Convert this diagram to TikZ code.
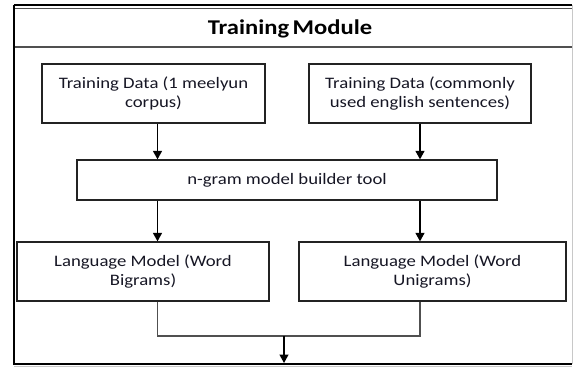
\documentclass[tikz,border=0pt]{standalone}
\usepackage{fontspec}
\setmainfont[FakeStretch=1.17]{Carlito}
\usetikzlibrary{arrows.meta}
\definecolor{ink}{RGB}{22,22,36}
\definecolor{rule}{RGB}{35,35,35}
\definecolor{soft}{RGB}{80,80,80}
\definecolor{pale}{RGB}{200,200,200}
\tikzset{
  x=1pt, y=-1pt,
  box/.style={draw=rule, line width=1.3pt, rectangle, inner sep=0pt,
    align=center, text=ink, font=\fontsize{16}{19.5}\selectfont},
  flow/.style={draw=black, line width=1.3pt,
    -{Triangle[width=9pt,length=8.5pt]}},
  link/.style={draw=soft, line width=1.4pt},
}
\begin{document}
\begin{tikzpicture}
\useasboundingbox (0,0) rectangle (573,369);

% module frame
\draw[black, line width=1.3pt] (14,5) -- (572,5);
\draw[soft, line width=1.1pt] (14,8.5) -- (572,8.5);
\draw[soft, line width=1.6pt] (14,47) -- (572,47);
\draw[pale, line width=1pt] (572,5) -- (572,364);
\draw[black, line width=2pt] (14,5) -- (14,364);
\draw[black, line width=2pt] (13,364) -- (572,364);
\draw[pale, line width=0.8pt] (14,366.5) -- (572,366.5);

\node[anchor=base, font=\fontsize{21}{25}\selectfont\bfseries, text=black]
  (title) at (290,35) {Training\hspace{-2pt} Module};

% boxes
\node[box, minimum width=223pt, minimum height=59pt] (data1) at (153.5,93.5)
  {Training Data (1 meelyun\\corpus)};
\node[box, minimum width=222pt, minimum height=59pt] (data2) at (420,93.5)
  {Training Data (commonly\\used english sentences)};
\node[box, minimum width=420pt, minimum height=40pt] (ngram) at (287,180)
  {n-gram model builder tool};
\node[box, minimum width=252pt, minimum height=59pt] (lm1) at (143,271.5)
  {Language Model (Word\\Bigrams)};
\node[box, minimum width=267pt, minimum height=59pt] (lm2) at (432.5,271.5)
  {Language Model (Word\\Unigrams)};

% connector columns
\coordinate (colA) at (157.5,0);
\coordinate (colB) at (420,0);
\coordinate (join) at (284,336);
\coordinate (out) at (284,363);

\draw[flow] (data1.south -| colA) -- (ngram.north -| colA);
\draw[flow] (data2.south -| colB) -- (ngram.north -| colB);
\draw[flow] (ngram.south -| colA) -- (lm1.north -| colA);
\draw[flow] (ngram.south -| colB) -- (lm2.north -| colB);

\draw[link] (lm1.south -| colA) |- (join) -| (lm2.south -| colB);
\draw[flow] (join) -- (out);
\end{tikzpicture}
\end{document}
